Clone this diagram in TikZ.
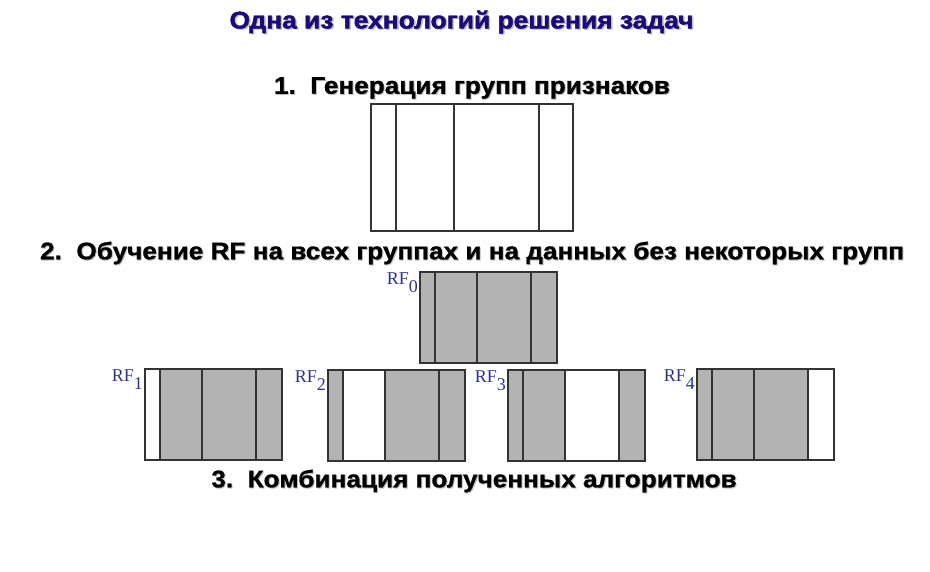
\documentclass[tikz,border=0pt]{standalone}
\usepackage{fontspec}
\setmainfont{Liberation Serif}
\newfontfamily\headfont[FakeStretch=1.09, FakeBold=1]{Liberation Sans Bold}
\newfontfamily\titlefont[FakeStretch=1.1, FakeBold=2]{Liberation Sans Bold}
\definecolor{rfgray}{RGB}{179,179,179}
\definecolor{rfblue}{RGB}{46,49,146}
\definecolor{titleblue}{RGB}{28,10,120}
\definecolor{shadowgray}{RGB}{190,190,190}
\begin{document}
\begin{tikzpicture}[x=1pt, y=-1pt,
    mygroup/.style={draw=black!80, line width=1.2pt},
    myhead/.style={font=\headfont\fontsize{24}{26}\selectfont, inner sep=0pt},
    mytitle/.style={font=\titlefont\fontsize{24}{26}\selectfont, inner sep=0pt},
    mylabel/.style={text=rfblue, font=\fontsize{18}{19}\selectfont, inner sep=0pt, anchor=north east}]
    \useasboundingbox (0,0) rectangle (930,572);
    % title and step captions, each with a light shadow
    \node[mytitle, text=shadowgray] at (463,23) {Одна из технологий решения задач};
    \node[mytitle, text=titleblue] (title) at (461.5,22) {Одна из технологий решения задач};
    \foreach \name/\y/\x/\txt in {stepone/88/472/{1.\ \ Генерация групп признаков},
                                  steptwo/253/472/{2.\ \ Обучение RF на всех группах и на данных без некоторых групп},
                                  stepthree/481/474/{3.\ \ Комбинация полученных алгоритмов}}{
        \node[myhead, text=shadowgray] at (\x+1,\y+1) {\txt};
        \node[myhead] (\name) at (\x,\y) {\txt};
    }
    % feature groups
    \foreach \a/\b in {371/396, 396/454, 454/539, 539/573}
        \draw[mygroup] (\a,104) rectangle (\b,231);
    % forests: RF0 on all groups, RFk without group k
    \foreach \k/\xl/\yt in {0/420/272, 1/145/369, 2/328/370, 3/508/370, 4/697/369}{
        \foreach \i/\a/\b in {1/0/15, 2/15/57, 3/57/111, 4/111/137}{
            \ifnum\i=\k \def\segcol{white}\else\def\segcol{rfgray}\fi
            \draw[mygroup, fill=\segcol] (\xl+\a,\yt) rectangle (\xl+\b,\yt+91);
        }
        \node[mylabel] (rf\k) at (\xl-2,\yt+1) {RF\raisebox{-8pt}{\k}};
    }
\end{tikzpicture}
\end{document}
